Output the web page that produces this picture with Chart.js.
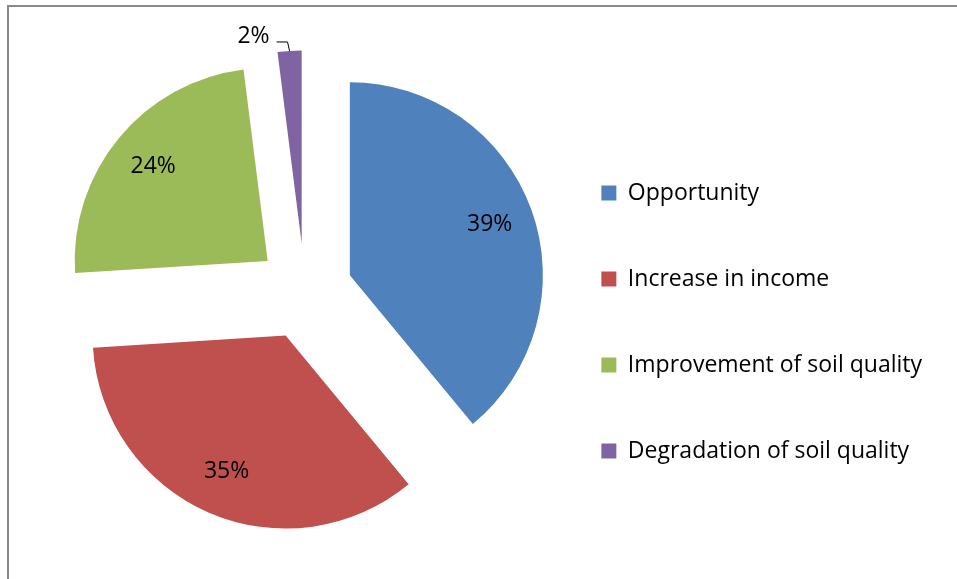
<!DOCTYPE html>
<html>
<head>
<meta charset="utf-8">
<script src="https://cdn.jsdelivr.net/npm/chart.js@4.4.1/dist/chart.umd.min.js"></script>
<style>
  html, body { margin: 0; padding: 0; background: #fff; overflow: hidden; }
  #frame {
    position: absolute; left: 7px; top: 5px;
    width: 1200px; height: 900px;
    border: 2px solid #898989;
  }
  #chart { position: absolute; left: 0; top: 0; }
</style>
</head>
<body>
<div id="frame"></div>
<canvas id="chart" width="957" height="579"></canvas>
<script>
// Datos del gráfico
const categorias = ["Opportunity", "Increase in income", "Improvement of soil quality", "Degradation of soil quality"];
const porcentajes = [39, 35, 24, 2];
const colores = ["#4F81BD", "#C0504D", "#9BBB59", "#8064A2"];

const EXPLODE = 48;     // separación de cada porción
const FUENTE = "'Open Sans', 'Noto Sans', sans-serif";

// Dibuja las porciones separadas del centro
const explodePlugin = {
  id: "explode",
  beforeDatasetDraw(chart, args) {
    const ctx = chart.ctx;
    args.meta.data.forEach(arc => {
      const mid = (arc.startAngle + arc.endAngle) / 2;
      ctx.save();
      ctx.translate(Math.cos(mid) * EXPLODE, Math.sin(mid) * EXPLODE);
      arc.draw(ctx);
      ctx.restore();
    });
    return false;
  }
};

// Etiquetas de porcentaje
const labelPlugin = {
  id: "pieLabels",
  afterDatasetsDraw(chart) {
    const ctx = chart.ctx;
    const meta = chart.getDatasetMeta(0);
    ctx.save();
    ctx.font = "23px " + FUENTE;
    ctx.fillStyle = "#000";
    meta.data.forEach((arc, i) => {
      const mid = (arc.startAngle + arc.endAngle) / 2;
      const cx = Math.cos(mid), cy = Math.sin(mid);
      const texto = porcentajes[i] + "%";
      if (porcentajes[i] >= 5) {
        const d = EXPLODE + arc.outerRadius * 0.77;
        ctx.textAlign = "center";
        ctx.textBaseline = "middle";
        ctx.fillText(texto, arc.x + cx * d, arc.y + cy * d);
      } else {
        // etiqueta afuera con línea guía
        const d = EXPLODE + arc.outerRadius;
        const px = arc.x + cx * d, py = arc.y + cy * d;
        const ex = px - 2, ey = py - 9;
        ctx.strokeStyle = "#000";
        ctx.lineWidth = 1;
        ctx.beginPath();
        ctx.moveTo(px, py);
        ctx.lineTo(ex, ey);
        ctx.lineTo(ex - 11, ey);
        ctx.stroke();
        ctx.textAlign = "right";
        ctx.textBaseline = "alphabetic";
        ctx.fillText(texto, ex - 18, ey + 1);
      }
    });
    ctx.restore();
  }
};

Chart.defaults.font.family = FUENTE;

new Chart(document.getElementById("chart"), {
  type: "pie",
  data: {
    labels: categorias,
    datasets: [{
      data: porcentajes,
      backgroundColor: colores,
      borderWidth: 0
    }]
  },
  options: {
    responsive: false,
    animation: false,
    radius: 193,
    layout: { padding: { left: 71, right: 25, top: 4, bottom: 0 } },
    plugins: {
      tooltip: { enabled: false },
      legend: {
        position: "right",
        title: { display: true, text: "", font: { size: 10 }, padding: { top: 49, bottom: 0 } },
        labels: {
          color: "#000",
          boxWidth: 15,
          boxHeight: 15,
          padding: 63,
          font: { size: 23 }
        }
      }
    }
  },
  plugins: [explodePlugin, labelPlugin]
});
</script>
</body>
</html>
